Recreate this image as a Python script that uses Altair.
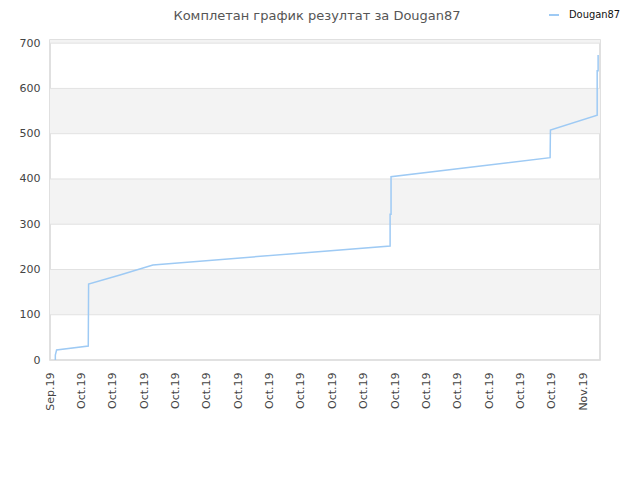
import altair as alt
import pandas as pd

# x tick labels (one per tick index)
tick_labels = ["Sep.19"] + ["Oct.19"] * 16 + ["Nov.19"]

# line series: x in tick-index units, cumulative result
xs = [0.17, 0.17, 0.21, 1.22, 1.23, 2.23, 3.28, 10.84, 10.84, 10.87, 10.87,
      15.94, 15.95, 17.44, 17.44, 17.47, 17.47]
ys = [0, 11, 22, 31, 168, 188, 210, 252, 322, 322, 405,
      447, 508, 541, 639, 639, 674]
series_name = "Dougan87"
title_text = "Комплетан график резултат за Dougan87"

band_lo = [100, 300, 500, 700]
band_hi = [200, 400, 600, 800]
grid_vals = [0, 100, 200, 300, 400, 500, 600, 700]

X_MAX = 17.53
Y_MAX = 707

line_df = pd.DataFrame({"x": xs, "y": ys, "order": list(range(len(xs))),
                        "series": [series_name] * len(xs)})
band_df = pd.DataFrame({"lo": band_lo, "hi": band_hi})
grid_df = pd.DataFrame({"v": grid_vals})
title_df = pd.DataFrame({"t": [title_text]})

label_expr = "[" + ",".join(f"'{t}'" for t in tick_labels) + "][datum.value]"

yscale = alt.Scale(domain=[0, Y_MAX], nice=False, zero=False)
xscale = alt.Scale(domain=[0, X_MAX], nice=False, zero=False)

bands = alt.Chart(band_df).mark_rect(color="#f3f3f3", clip=True).encode(
    y=alt.Y("lo:Q", scale=yscale,
            axis=alt.Axis(values=grid_vals, title=None, ticks=False, domain=False,
                          grid=False, labelPadding=10, labelFontSize=11,
                          labelFont="DejaVu Sans", labelColor="#444")),
    y2="hi:Q",
)

grid = alt.Chart(grid_df).mark_rule(color="#e2e2e2", strokeWidth=1).encode(
    y=alt.Y("v:Q", scale=yscale)
)

line = alt.Chart(line_df).mark_line(strokeWidth=1.5, interpolate="linear").encode(
    x=alt.X("x:Q", scale=xscale,
            axis=alt.Axis(values=list(range(len(tick_labels))), labelExpr=label_expr,
                          title=None, ticks=False, domain=False, grid=False,
                          labelAngle=270, labelAlign="right", labelBaseline="middle",
                          labelPadding=12, labelFontSize=11, labelFont="DejaVu Sans",
                          labelColor="#444", labelOverlap=False, labelFlush=False)),
    y=alt.Y("y:Q", scale=yscale),
    order="order:Q",
    color=alt.Color("series:N",
                    scale=alt.Scale(range=["#9ecaf4"]),
                    legend=alt.Legend(title=None, orient="none", legendX=498,
                                      legendY=-31, symbolType="stroke",
                                      symbolSize=100, symbolStrokeWidth=2,
                                      labelOffset=9,
                                      labelFontSize=11, labelFont="DejaVu Sans Condensed",
                                      labelColor="#111")),
)

title = alt.Chart(title_df).mark_text(
    font="DejaVu Sans", fontSize=13, color="#555", align="center",
    baseline="alphabetic"
).encode(text="t:N", x=alt.value(267), y=alt.value(-20))

chart = alt.layer(bands, grid, line, title).properties(
    width=550,
    height=320,
    autosize=alt.AutoSizeParams(type="none"),
    padding={"left": 42, "top": 32, "right": 32, "bottom": 112},
).configure_view(stroke="#d6d6d6", strokeWidth=1.5)

chart.save("out.html", embed_options={"renderer": "svg", "actions": False})
